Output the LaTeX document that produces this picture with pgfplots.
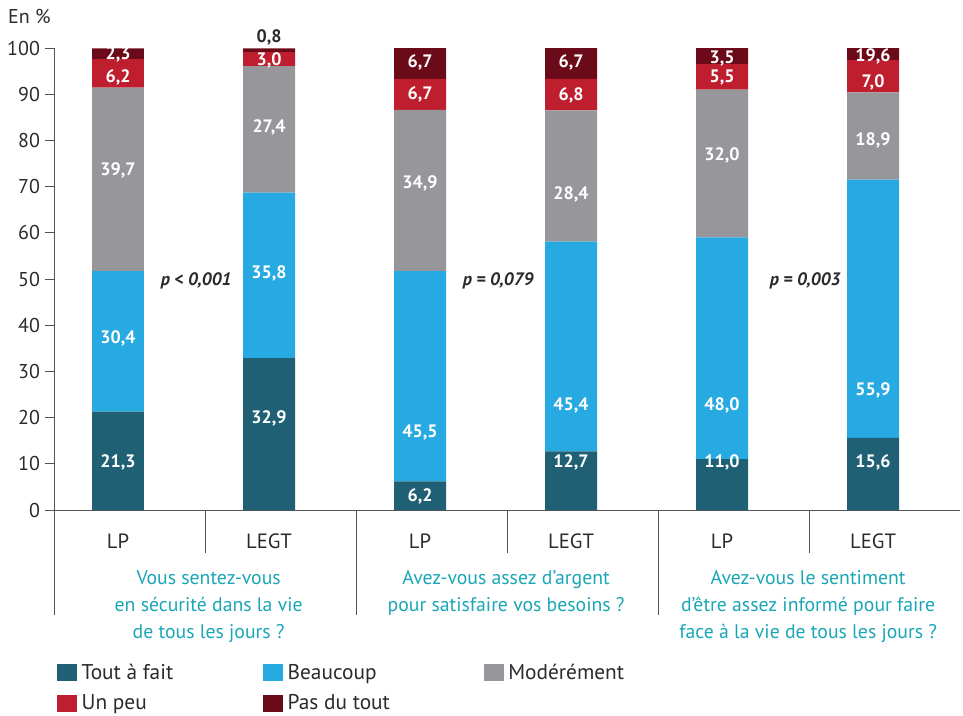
\documentclass[border=0pt]{standalone}
\usepackage{pgfplots}
\pgfplotsset{compat=1.18}
\usepackage{fontspec}
\setmainfont{PT Sans}
\definecolor{cTout}{HTML}{1F6075}
\definecolor{cBeau}{HTML}{27A9E1}
\definecolor{cMod}{HTML}{97979B}
\definecolor{cPeu}{HTML}{BE1E2D}
\definecolor{cPas}{HTML}{6B0A18}
\definecolor{cTeal}{HTML}{1AA6B7}
\definecolor{cAxis}{HTML}{555555}
\definecolor{cTxt}{HTML}{2B2B2B}
\newcommand{\vl}[3]{\node[text=white, font=\bfseries\fontsize{13.5}{14}\selectfont, inner sep=0pt] at (axis cs:#1,#2) {#3};}
\newcommand{\pv}[2]{\node[text=cTxt, font=\bfseries\itshape\fontsize{13.5}{14}\selectfont, inner sep=0pt] at (axis cs:#1,49.6) {#2};}
\newcommand{\gl}[2]{\node[anchor=north, align=center, text=cTeal, inner sep=0pt, font=\fontsize{14.8}{20.25}\selectfont] at (axis cs:#1,-13.0) {#2};}
\newcommand{\sep}[2]{\draw[cAxis, line width=0.6pt] (axis cs:#1,0) -- (axis cs:#1,#2);}
\begin{document}
\begin{tikzpicture}
\begin{axis}[
  scale only axis, width=679.5pt, height=346.5pt,
  ybar stacked, bar width=0.344,
  xmin=-0.424, xmax=5.576, ymin=0, ymax=100,
  ytick={0,10,...,100},
  xtick={0,1,2,3,4,5}, xticklabels={LP,LEGT,LP,LEGT,LP,LEGT},
  axis x line*=bottom, axis y line*=left,
  axis line style={cAxis, line width=0.7pt, -},
  x tick style={draw=none},
  y tick style={cAxis, line width=0.7pt},
  tick align=outside, major tick length=7pt,
  ticklabel style={font=\fontsize{15}{17}\selectfont, text=cTxt},
  xticklabel style={yshift=-7pt, font=\fontsize{15.5}{17}\selectfont},
  /pgf/number format/assume math mode=true,
  clip=false,
  legend columns=3,
  legend style={at={(0.003,-0.327)}, anchor=north west, draw=none, fill=none,
    inner sep=0pt, font=\fontsize{16}{18}\selectfont, text=cTxt,
    row sep=6pt,
    /tikz/every odd column/.append style={column sep=1.5pt}},
  legend cell align=left,
  legend image code/.code={\fill[#1,draw=none] (0pt,-6.5pt) rectangle (15pt,6.5pt);},
]
\addplot[fill=cTout, draw=none] coordinates {(0,21.3) (1,32.9) (2,6.2) (3,12.7) (4,11.0) (5,15.6)};
\addlegendentry{\makebox[134pt][l]{Tout à fait}}
\addplot[fill=cBeau, draw=none] coordinates {(0,30.4) (1,35.8) (2,45.5) (3,45.4) (4,48.0) (5,55.9)};
\addlegendentry{\makebox[145pt][l]{Beaucoup}}
\addplot[fill=cMod, draw=none] coordinates {(0,39.7) (1,27.4) (2,34.9) (3,28.4) (4,32.0) (5,18.9)};
\addlegendentry{Modérément}
\addplot[fill=cPeu, draw=none] coordinates {(0,6.2) (1,3.0) (2,6.7) (3,6.8) (4,5.5) (5,7.0)};
\addlegendentry{\makebox[134pt][l]{Un peu}}
\addplot[fill=cPas, draw=none] coordinates {(0,2.3) (1,0.8) (2,6.7) (3,6.7) (4,3.5) (5,2.6)};
\addlegendentry{Pas du tout}

\pv{0.517}{p < 0,001}
\pv{2.517}{p = 0,079}
\pv{4.55}{p = 0,003}

\sep{0.576}{-9.3} \sep{2.576}{-9.3} \sep{4.576}{-9.3}
\sep{-0.424}{-22.7} \sep{1.576}{-22.7} \sep{3.576}{-22.7}

\gl{0.6}{Vous sentez-vous\\en sécurité dans la vie\\de tous les jours ?}
\gl{2.57}{Avez-vous assez d'argent\\pour satisfaire vos besoins ?}
\gl{4.57}{Avez-vous le sentiment\\d'être assez informé pour faire\\face à la vie de tous les jours ?}

\node[anchor=west, text=cTxt, inner sep=0pt, font=\fontsize{15}{17}\selectfont] at (axis cs:-0.729,106.9) {En \%};

\coordinate (bl) at (rel axis cs:-0.0596,-0.4437);
\coordinate (tr) at (rel axis cs:1.0033,1.1039);
\end{axis}
\begin{axis}[
  scale only axis, width=679.5pt, height=346.5pt,
  xmin=-0.424, xmax=5.576, ymin=0, ymax=100,
  hide axis, clip=false,
]
\vl{0}{10.2}{21,3} \vl{0}{37.2}{30,4} \vl{0}{73.6}{39,7} \vl{0}{93.7}{6,2} \vl{0}{98.6}{2,3}
\vl{1}{19.9}{32,9} \vl{1}{51.3}{35,8} \vl{1}{82.9}{27,4} \vl{1}{97.4}{3,0}
\vl{2}{3.0}{6,2} \vl{2}{16.7}{45,5} \vl{2}{70.6}{34,9} \vl{2}{90.0}{6,7} \vl{2}{96.8}{6,7}
\vl{3}{10.2}{12,7} \vl{3}{22.7}{45,4} \vl{3}{68.4}{28,4} \vl{3}{89.8}{6,8} \vl{3}{96.8}{6,7}
\vl{4}{10.2}{11,0} \vl{4}{22.7}{48,0} \vl{4}{76.8}{32,0} \vl{4}{93.5}{5,5} \vl{4}{97.8}{3,5}
\vl{5}{10.2}{15,6} \vl{5}{25.8}{55,9} \vl{5}{80.1}{18,9} \vl{5}{92.6}{7,0} \vl{5}{98.2}{19,6}
\node[text=cTxt, font=\bfseries\fontsize{13.5}{14}\selectfont, inner sep=0pt] at (axis cs:1,102.2) {0,8};
\end{axis}
\pgfresetboundingbox
\path[use as bounding box] (bl) rectangle (tr);
\end{tikzpicture}
\end{document}
